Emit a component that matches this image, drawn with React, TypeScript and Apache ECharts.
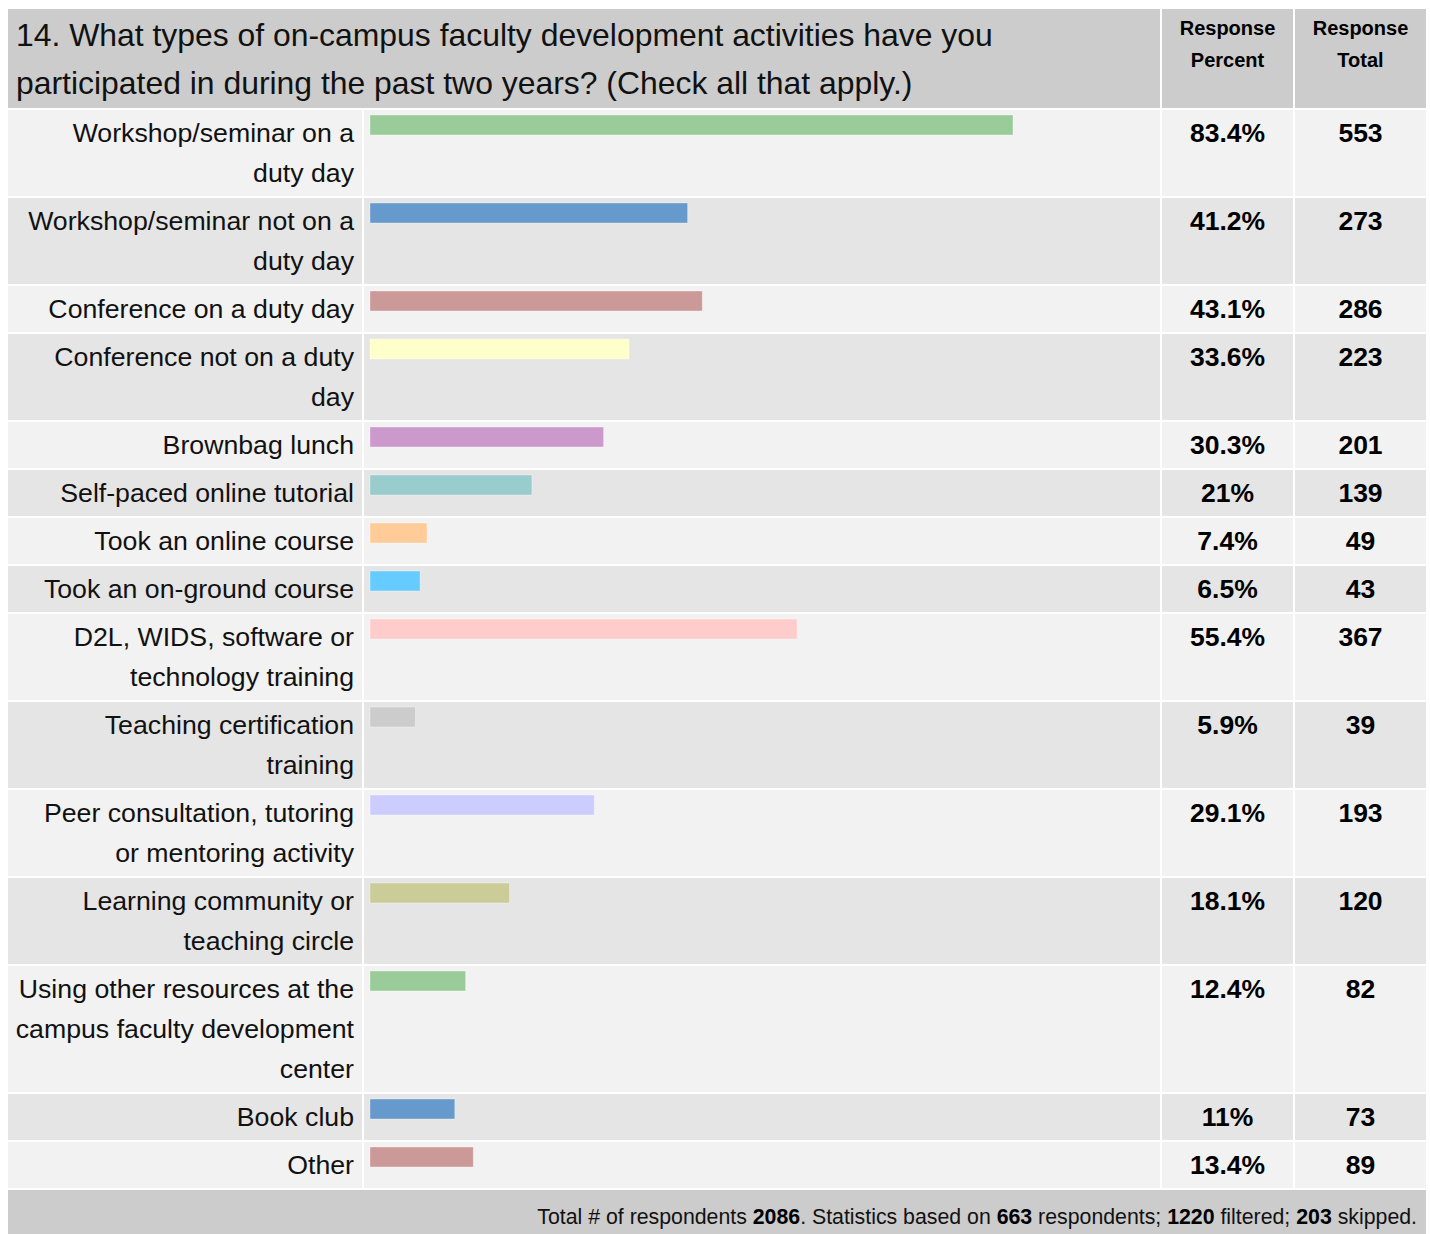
import React, { useEffect, useRef } from "react";
import * as echarts from "echarts";

// ---------- data ----------
const titleLines = [
  "14. What types of on-campus faculty development activities have you",
  "participated in during the past two years? (Check all that apply.)",
];
const headerPercent = "Response\nPercent";
const headerTotal = "Response\nTotal";

const categories = [
  "Workshop/seminar on a\nduty day",
  "Workshop/seminar not on a\nduty day",
  "Conference on a duty day",
  "Conference not on a duty\nday",
  "Brownbag lunch",
  "Self-paced online tutorial",
  "Took an online course",
  "Took an on-ground course",
  "D2L, WIDS, software or\ntechnology training",
  "Teaching certification\ntraining",
  "Peer consultation, tutoring\nor mentoring activity",
  "Learning community or\nteaching circle",
  "Using other resources at the\ncampus faculty development\ncenter",
  "Book club",
  "Other",
];
const percents = [83.4, 41.2, 43.1, 33.6, 30.3, 21, 7.4, 6.5, 55.4, 5.9, 29.1, 18.1, 12.4, 11, 13.4];
const totals = [553, 273, 286, 223, 201, 139, 49, 43, 367, 39, 193, 120, 82, 73, 89];
const barColors = [
  "#99cc99", "#6699cc", "#cc9999", "#ffffcc", "#cc99cc", "#99cccc", "#ffcc99", "#66ccff",
  "#ffcccc", "#cccccc", "#ccccff", "#cccc99", "#99cc99", "#6699cc", "#cc9999",
];
const totalRespondents = 2086;
const basedOn = 663;
const filtered = 1220;
const skipped = 203;

// ---------- layout ----------
const W = 1430;
const H = 1234;
const TABLE_L = 8;
const TABLE_R = 1426;
const LABEL_R = 362;
const BARCELL_L = 364;
const BARCELL_R = 1160;
const PCT_L = 1162;
const PCT_R = 1293;
const TOT_L = 1295;
const TOT_R = 1426;
const HEADER_T = 9;
const HEADER_B = 108;
const LINE_H = 40;
const PAD = 3;
const SEP = 2;
const BAR_L = 370;
const BAR_SPAN = 771; // px for 100%
const FONT = '"Liberation Sans", Arial, Helvetica, sans-serif';

const rowLines = categories.map((c) => c.split("\n").length);
const rowStarts: number[] = [];
const rowEnds: number[] = [];
{
  let acc = 0;
  rowLines.forEach((n) => {
    rowStarts.push(acc);
    acc += n * LINE_H + 2 * PAD + SEP;
    rowEnds.push(acc);
  });
}
const bodyHeight = rowEnds[rowEnds.length - 1];
const FOOTER_T = HEADER_B + bodyHeight + SEP;

export default function App() {
  const ref = useRef<HTMLDivElement>(null);

  useEffect(() => {
    if (!ref.current) return;
    const chart = echarts.init(ref.current, undefined, { renderer: "svg" });

    const rowData = categories.map((_, i) => [percents[i], rowStarts[i], rowEnds[i], totals[i]]);

    const option: any = {
      animation: false,
      backgroundColor: "#ffffff",
      grid: { left: BAR_L, width: BAR_SPAN, top: HEADER_B, height: bodyHeight },
      xAxis: { type: "value", min: 0, max: 100, show: false },
      yAxis: { type: "value", min: 0, max: bodyHeight, inverse: true, show: false },
      graphic: [
        { type: "rect", shape: { x: TABLE_L, y: HEADER_T, width: BARCELL_R - TABLE_L, height: HEADER_B - HEADER_T }, style: { fill: "#cccccc" } },
        { type: "rect", shape: { x: PCT_L, y: HEADER_T, width: PCT_R - PCT_L, height: HEADER_B - HEADER_T }, style: { fill: "#cccccc" } },
        { type: "rect", shape: { x: TOT_L, y: HEADER_T, width: TOT_R - TOT_L, height: HEADER_B - HEADER_T }, style: { fill: "#cccccc" } },
        {
          type: "text",
          style: {
            text: titleLines.join("\n"), x: 16, y: 11, lineHeight: 48,
            align: "left", textAlign: "left", verticalAlign: "top", textVerticalAlign: "top",
            font: `31.9px ${FONT}`, fill: "#111111",
          },
        },
        {
          type: "text",
          style: {
            text: headerPercent, x: (PCT_L + PCT_R) / 2, y: 12, lineHeight: 32,
            align: "center", textAlign: "center", verticalAlign: "top", textVerticalAlign: "top",
            font: `bold 20px ${FONT}`, fill: "#000000",
          },
        },
        {
          type: "text",
          style: {
            text: headerTotal, x: (TOT_L + TOT_R) / 2, y: 12, lineHeight: 32,
            align: "center", textAlign: "center", verticalAlign: "top", textVerticalAlign: "top",
            font: `bold 20px ${FONT}`, fill: "#000000",
          },
        },
        { type: "rect", shape: { x: TABLE_L, y: FOOTER_T, width: TABLE_R - TABLE_L, height: H - FOOTER_T }, style: { fill: "#cccccc" } },
        {
          type: "text",
          style: {
            text: `Total # of respondents {b|${totalRespondents}}. Statistics based on {b|${basedOn}} respondents; {b|${filtered}} filtered; {b|${skipped}} skipped.`,
            x: 1417, y: 1217,
            align: "right", textAlign: "right", verticalAlign: "middle", textVerticalAlign: "middle",
            font: `21.3px ${FONT}`, fill: "#111111",
            rich: { b: { fontWeight: "bold", fontSize: 21.3, fontFamily: FONT, fill: "#000000", color: "#000000" } },
          },
        },
      ],
      series: [
        {
          type: "custom",
          name: "rows",
          z: 1,
          silent: true,
          clip: false,
          encode: { x: 0, y: 1 },
          data: rowData,
          renderItem: (params: any, api: any) => {
            const i = params.dataIndex;
            const top = api.coord([0, api.value(1)])[1] + SEP;
            const bottom = api.coord([0, api.value(2)])[1];
            const h = bottom - top;
            const bg = i % 2 === 0 ? "#f2f2f2" : "#e5e5e5";
            const cell = (l: number, r: number) => ({
              type: "rect",
              shape: { x: l, y: top, width: r - l, height: h },
              style: { fill: bg },
            });
            return {
              type: "group",
              children: [
                cell(TABLE_L, LABEL_R),
                cell(BARCELL_L, BARCELL_R),
                cell(PCT_L, PCT_R),
                cell(TOT_L, TOT_R),
                {
                  type: "text",
                  style: {
                    text: categories[i], x: LABEL_R - 8, y: top + PAD, lineHeight: LINE_H,
                    align: "right", textAlign: "right", verticalAlign: "top", textVerticalAlign: "top",
                    font: `26.7px ${FONT}`, fill: "#111111",
                  },
                },
                {
                  type: "text",
                  style: {
                    text: `${api.value(0)}%`, x: (PCT_L + PCT_R) / 2, y: top + PAD + LINE_H / 2,
                    align: "center", textAlign: "center", verticalAlign: "middle", textVerticalAlign: "middle",
                    font: `bold 26.5px ${FONT}`, fill: "#000000",
                  },
                },
                {
                  type: "text",
                  style: {
                    text: `${api.value(3)}`, x: (TOT_L + TOT_R) / 2, y: top + PAD + LINE_H / 2,
                    align: "center", textAlign: "center", verticalAlign: "middle", textVerticalAlign: "middle",
                    font: `bold 26.5px ${FONT}`, fill: "#000000",
                  },
                },
              ],
            };
          },
        },
        {
          type: "custom",
          name: "Response Percent",
          z: 3,
          silent: true,
          clip: false,
          encode: { x: 0, y: 1 },
          data: rowData,
          renderItem: (params: any, api: any) => {
            const i = params.dataIndex;
            const start = api.coord([0, api.value(1)]);
            const end = api.coord([api.value(0), api.value(1)]);
            const y = start[1] + SEP + 5;
            return {
              type: "rect",
              shape: { x: start[0], y, width: end[0] - start[0], height: 20 },
              style: { fill: barColors[i], stroke: "rgba(255,255,255,0.35)", lineWidth: 1 },
            };
          },
        },
      ],
    };

    chart.setOption(option);
    return () => chart.dispose();
  }, []);

  return (
    <div
      ref={ref}
      style={{ position: "absolute", left: 0, top: 0, width: W, height: H, background: "#ffffff" }}
    />
  );
}
